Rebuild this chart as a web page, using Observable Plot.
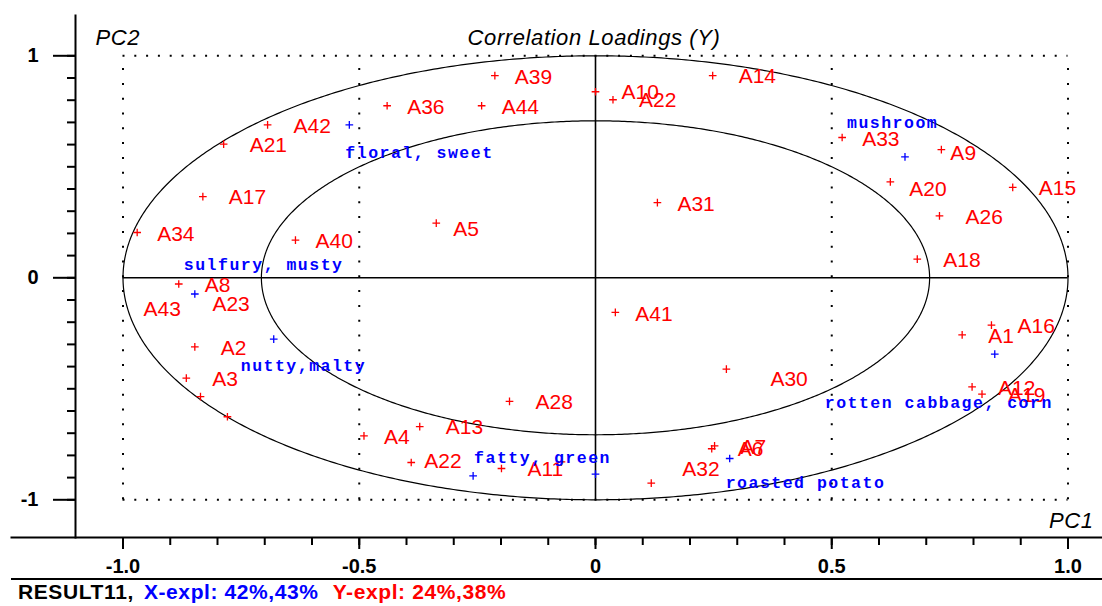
<!DOCTYPE html>
<html>
<head>
<meta charset="utf-8">
<script src="https://cdn.jsdelivr.net/npm/d3@7"></script>
<script src="https://cdn.jsdelivr.net/npm/@observablehq/plot@0.6"></script>
<style>
html, body { margin: 0; padding: 0; background: #fff; }
#chart svg { display: block; }
#caption { margin-left: 11px; border-top: 2px solid #000; height: 32px; line-height: 32px;
  font: bold 21px "Liberation Sans", Arial, sans-serif; letter-spacing: 0.6px; white-space: pre; padding-left: 7px; overflow: hidden; }
#caption span { display: inline-block; }
</style>
</head>
<body>
<div id="chart"></div>
<div id="caption"></div>
<script>
// ---- data ----
const title = "Correlation Loadings (Y)";
const xAxisName = "PC1";
const yAxisName = "PC2";
const resultName = "RESULT11";
const xExpl = [42, 43];
const yExpl = [24, 38];

// Y-variables (red)
const redNames = ["A39","A36","A44","A10","A22","A14","A31","A5","A33","A9","A20","A15","A26","A18",
  "A42","A21","A17","A34","A40","A8","A2","A3","A43","A23","A4","A13","A22","A11","","A28",
  "A41","A30","A32","A7","A6","A1","A16","A12","A19"];
const redX = [-0.213,-0.441,-0.241,0.000,0.037,0.248,0.131,-0.337,0.522,0.732,0.624,0.883,0.728,0.681,
  -0.694,-0.787,-0.831,-0.970,-0.635,-0.882,-0.848,-0.866,-0.836,-0.779,-0.490,-0.372,-0.390,-0.199,-0.072,-0.182,
  0.042,0.277,0.118,0.252,0.246,0.776,0.838,0.797,0.818];
const redY = [0.911,0.775,0.775,0.838,0.802,0.911,0.339,0.246,0.632,0.577,0.432,0.407,0.279,0.084,
  0.689,0.602,0.366,0.204,0.170,-0.028,-0.311,-0.452,-0.535,-0.626,-0.712,-0.670,-0.832,-0.859,-0.829,-0.557,
  -0.156,-0.411,-0.925,-0.757,-0.770,-0.257,-0.213,-0.491,-0.524];

// X-variables (blue, sensory attributes)
const blueNames = ["floral, sweet","mushroom","sulfury, musty","nutty,malty","fatty, green",
  "rotten cabbage, corn","roasted potato",""];
const blueX = [-0.521,0.655,-0.848,-0.681,-0.259,0.845,0.284,0.000];
const blueY = [0.689,0.545,-0.073,-0.276,-0.892,-0.344,-0.814,-0.884];

// axes
const xMajor = [-1, -0.5, 0, 0.5, 1];
const xMajorLabels = ["-1.0", "-0.5", "0", "0.5", "1.0"];
const xMinor = d3.range(-10, 11).map(k => k / 10);
const yMajor = [-1, 0, 1];
const yMajorLabels = ["-1", "0", "1"];
const yMinor = d3.range(-10, 11).map(k => k / 10);
const boxY = [-1, 1];
const dottedX = [-1, -0.5, 0.5, 1];
const circleRadii = [1, Math.SQRT1_2];

// ---- tables ----
const red = redNames.map((name, i) => ({name, x: redX[i], y: redY[i]}));
const blue = blueNames.map((name, i) => ({name, x: blueX[i], y: blueY[i]}));
const rings = circleRadii.flatMap(r => d3.range(0, 721).map(k => ({
  r, x: r * Math.cos(k * Math.PI / 360), y: r * Math.sin(k * Math.PI / 360)})));

const redFont = {fontFamily: "Liberation Sans, Arial, sans-serif", fontSize: 21, fill: "#ff0000", textAnchor: "start"};
const blueFont = {fontFamily: "Liberation Mono, DejaVu Sans Mono, monospace", fontSize: 16.5, fontWeight: "bold", fill: "#0000ff", textAnchor: "start"};

const nearSet = ["A39","A36","A44","A31","A34","A40","A4","A41","A33"];
const custom = [
  {f: d => d.name === "A5", dx: 17, dy: 6},
  {f: d => d.name === "A9", dx: 9, dy: 3.5},
  {f: d => d.name === "A20", dx: 19, dy: 7},
  {f: d => d.name === "A22" && d.y < 0, dx: 13, dy: -1.5},
  {f: d => d.name === "A30", dx: 44, dy: 10},
  {f: d => d.name === "A32", dx: 31, dy: -14},
  {f: d => d.name === "A43", dx: -57, dy: -87},
  {f: d => d.name === "A23", dx: -15, dy: -113}
];
const isCustom = d => custom.some(c => c.f(d));
const redText = (filter, dx, dy) => Plot.text(red, {filter, x: "x", y: "y", text: "name", dx, dy, ...redFont});

const blueOffsets = {
  "floral, sweet": [-4, 28],
  "mushroom": [-58, -34],
  "sulfury, musty": [-11, -29],
  "nutty,malty": [-33, 27],
  "fatty, green": [1, -18],
  "rotten cabbage, corn": [-170, 49],
  "roasted potato": [-4, 24]
};
const blueText = Object.entries(blueOffsets).map(([n, [dx, dy]]) =>
  Plot.text(blue, {filter: d => d.name === n, x: "x", y: "y", text: "name", dx, dy, ...blueFont}));

const tickFont = {fontFamily: "Liberation Sans, Arial, sans-serif", fontSize: 20, fontWeight: "bold"};
const titleFont = {fontStyle: "italic", fontSize: 22, fontFamily: "Liberation Sans, Arial, sans-serif", fill: "#000", lineAnchor: "middle"};

const chart = Plot.plot({
  width: 1102,
  height: 578,
  marginLeft: 75,
  marginRight: 0,
  marginTop: 15,
  marginBottom: 41,
  x: {domain: [-1, 1], range: [122.5, 1067.5], label: null},
  y: {domain: [-1, 1], range: [499.3, 55.3], label: null},
  style: {background: "#fff", overflow: "visible", color: "#000"},
  marks: [
    // dotted reference box and verticals
    Plot.ruleY(boxY, {x1: -1, x2: 1, stroke: "#000", strokeWidth: 2, strokeDasharray: "2 9.8"}),
    Plot.ruleX(dottedX, {y1: -1, y2: 1, stroke: "#000", strokeWidth: 2, strokeDasharray: "2 12.8"}),
    // correlation ellipses
    Plot.line(rings, {x: "x", y: "y", z: "r", stroke: "#000", strokeWidth: 1.2}),
    // zero lines
    Plot.ruleY([0], {x1: -1, x2: 1, stroke: "#000", strokeWidth: 1.6}),
    Plot.ruleX([0], {y1: -1, y2: 1, stroke: "#000", strokeWidth: 1.6}),
    // axis lines
    Plot.frame({anchor: "left", stroke: "#000", strokeWidth: 2}),
    Plot.frame({anchor: "bottom", insetLeft: -64, stroke: "#000", strokeWidth: 2}),
    // ticks
    Plot.axisY(yMinor, {anchor: "left", tickSize: 8, strokeWidth: 2, tickFormat: () => "", label: null}),
    Plot.axisY(yMajor, {anchor: "left", tickSize: 22, tickPadding: 15, strokeWidth: 2,
      tickFormat: d => yMajorLabels[yMajor.indexOf(d)], label: null, ...tickFont}),
    Plot.axisX(xMinor, {anchor: "bottom", tickSize: 8, strokeWidth: 2, tickFormat: () => "", label: null}),
    Plot.axisX(xMajor, {anchor: "bottom", tickSize: 12, tickPadding: 9, strokeWidth: 2,
      tickFormat: d => xMajorLabels[xMajor.indexOf(d)], label: null, ...tickFont}),
    // titles
    Plot.text([title], {frameAnchor: "top", dx: 5, dy: 22, ...titleFont}),
    Plot.text([yAxisName], {frameAnchor: "top-left", dx: 20, dy: 22, textAnchor: "start", ...titleFont}),
    Plot.text([xAxisName], {frameAnchor: "bottom-right", dx: -9, dy: -17, textAnchor: "end", ...titleFont}),
    // points
    Plot.dot(red, {x: "x", y: "y", symbol: "plus", r: 2.6, stroke: "#ff0000", strokeWidth: 1.3}),
    Plot.dot(blue, {x: "x", y: "y", symbol: "plus", r: 2.6, stroke: "#0000ff", strokeWidth: 1.3}),
    // labels
    redText(d => d.name && nearSet.includes(d.name) && !isCustom(d), 20, 1.5),
    redText(d => d.name && !nearSet.includes(d.name) && !isCustom(d), 26, 1),
    ...custom.map(c => redText(c.f, c.dx, c.dy)),
    ...blueText
  ]
});

chart.querySelectorAll('g[font-family*="Mono"]').forEach(g => g.style.letterSpacing = "1.5px");
chart.querySelectorAll('g[font-style="italic"]').forEach(g => g.style.letterSpacing = "0.6px");
document.getElementById("chart").appendChild(chart);

// caption
const cap = d3.select("#caption");
cap.append("span").style("color", "#000").text(resultName + ",");
cap.append("span").style("color", "#0000ff").style("margin-left", "10px")
  .text(`X-expl: ${xExpl[0]}%,${xExpl[1]}%`);
cap.append("span").style("color", "#ff0000").style("margin-left", "14px")
  .text(`Y-expl: ${yExpl[0]}%,${yExpl[1]}%`);
</script>
</body>
</html>
